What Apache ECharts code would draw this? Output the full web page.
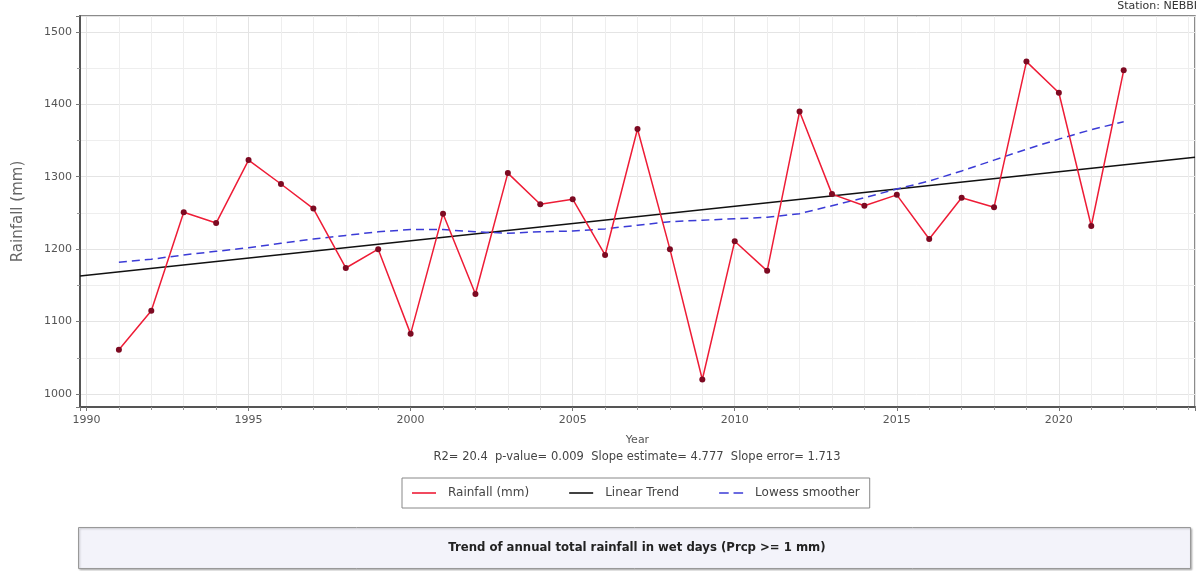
<!DOCTYPE html>
<html>
<head>
<meta charset="utf-8">
<script src="https://cdn.jsdelivr.net/npm/echarts@6/dist/echarts.min.js"></script>
<style>
  html, body { margin: 0; padding: 0; background: #fff; }
  #chart { width: 1196px; height: 571px; }
</style>
</head>
<body>
<div id="chart"></div>
<script>
// annual total rainfall in wet days
var years = [1991, 1992, 1993, 1994, 1995, 1996, 1997, 1998, 1999, 2000,
  2001, 2002, 2003, 2004, 2005, 2006, 2007, 2008, 2009, 2010,
  2011, 2012, 2013, 2014, 2015, 2016, 2017, 2018, 2019, 2020, 2021, 2022];
var rainfall = [1061, 1115, 1251, 1236, 1323, 1290, 1256, 1174, 1200, 1083,
  1249, 1138, 1305, 1262, 1269, 1192, 1366, 1200, 1020, 1211,
  1170, 1390, 1276, 1260, 1275, 1214, 1271, 1258, 1459, 1416, 1232, 1447];
var lowess = [1182, 1186, 1192, 1197, 1202, 1208, 1214, 1219, 1224, 1227,
  1227, 1224, 1222, 1224, 1225, 1228, 1233, 1238, 1240, 1242,
  1244, 1249, 1260, 1271, 1283, 1294, 1308, 1323, 1338, 1352, 1365, 1376];
// linear trend end points
var trendX = [1989.8, 2024.2];
var trendY = [1163, 1327];

var statsText = "R2= 20.4  p-value= 0.009  Slope estimate= 4.777  Slope error= 1.713";
var titleText = "Trend of annual total rainfall in wet days (Prcp >= 1 mm)";

var font = "DejaVu Sans, Liberation Sans, sans-serif";

function pairs(xs, ys) {
  return xs.map(function (x, i) { return [x, ys[i]]; });
}

var chart = echarts.init(document.getElementById("chart"));
chart.setOption({
  animation: false,
  textStyle: { fontFamily: font },
  grid: {
    left: 80, right: 1, top: 16, bottom: 164,
    show: true, borderColor: "#666", borderWidth: 1.5
  },
  xAxis: {
    type: "value",
    min: 1989.8,
    max: 2024.2,
    splitNumber: 7,
    name: "Year",
    nameLocation: "middle",
    nameGap: 28,
    nameTextStyle: { color: "#555", fontSize: 11 },
    axisLine: { show: true, lineStyle: { color: "#555", width: 2 } },
    axisTick: { show: true, length: 4, lineStyle: { color: "#777" } },
    minorTick: { show: true, splitNumber: 5, length: 3, lineStyle: { color: "#999" } },
    axisLabel: {
      color: "#555", fontSize: 11, margin: 8,
      showMinLabel: false, showMaxLabel: false,
      formatter: function (v) { return String(v); }
    },
    splitLine: { show: true, lineStyle: { color: "#e4e4e4" } },
    minorSplitLine: { show: true, lineStyle: { color: "#eeeeee" } }
  },
  yAxis: {
    type: "value",
    min: 982,
    max: 1522,
    splitNumber: 5,
    name: "Rainfall (mm)",
    nameLocation: "middle",
    nameGap: 54,
    nameTextStyle: { color: "#666", fontSize: 15 },
    axisLine: { show: true, lineStyle: { color: "#555", width: 2 } },
    axisTick: { show: true, length: 4, lineStyle: { color: "#777" } },
    minorTick: { show: true, splitNumber: 2, length: 3, lineStyle: { color: "#999" } },
    axisLabel: {
      color: "#555", fontSize: 11, margin: 8,
      showMinLabel: false, showMaxLabel: false,
      formatter: function (v) { return String(v); }
    },
    splitLine: { show: true, lineStyle: { color: "#e4e4e4" } },
    minorSplitLine: { show: true, lineStyle: { color: "#eeeeee" } }
  },
  legend: {
    left: 402,
    top: 478,
    padding: [9, 10, 9, 10],
    itemGap: 40,
    itemWidth: 24,
    itemHeight: 2,
    borderColor: "#888",
    borderWidth: 1,
    textStyle: { color: "#444", fontSize: 12, padding: [0, 0, 0, 7] },
    data: [
      { name: "Rainfall (mm)", icon: "path://M0 0H30V2H0Z", itemStyle: { color: "#ee1c36" } },
      { name: "Linear Trend", icon: "path://M0 0H30V2H0Z", itemStyle: { color: "#111" } },
      { name: "Lowess smoother", icon: "path://M0 0H12V2H0Z M18 0H30V2H18Z", itemStyle: { color: "#3b3bd6" } }
    ]
  },
  graphic: [
    {
      type: "text", right: -1, top: 1,
      style: { text: "Station: NEBBI", fill: "#333", fontSize: 11, fontFamily: font }
    },
    {
      type: "text", x: 637, y: 451,
      style: { text: statsText, fill: "#444", fontSize: 11.5, fontFamily: font, align: "center" }
    },
    {
      type: "rect", left: 78, top: 527,
      shape: { width: 1112, height: 41 },
      style: { fill: "#f3f3fa", stroke: "#999", lineWidth: 1, shadowColor: "rgba(0,0,0,0.25)", shadowBlur: 2, shadowOffsetX: 1, shadowOffsetY: 1 }
    },
    {
      type: "text", x: 637, y: 541,
      style: { text: titleText, fill: "#222", fontSize: 13, fontWeight: "bold", align: "center", fontFamily: "DejaVu Sans Condensed, Liberation Sans Narrow, DejaVu Sans, sans-serif" }
    }
  ],
  series: [
    {
      name: "Rainfall (mm)",
      type: "line",
      data: pairs(years, rainfall),
      color: "#ee1c36",
      lineStyle: { color: "#ee1c36", width: 1.5 },
      symbol: "circle",
      symbolSize: 6,
      itemStyle: { color: "#7d0a22" },
      z: 3
    },
    {
      name: "Linear Trend",
      type: "line",
      data: pairs(trendX, trendY),
      color: "#111",
      lineStyle: { color: "#111", width: 1.5 },
      showSymbol: false,
      symbol: "none",
      z: 2
    },
    {
      name: "Lowess smoother",
      type: "line",
      data: pairs(years, lowess),
      color: "#3b3bd6",
      lineStyle: { color: "#3b3bd6", width: 1.5, type: [8, 5] },
      showSymbol: false,
      symbol: "none",
      z: 2
    }
  ]
});
</script>
</body>
</html>
